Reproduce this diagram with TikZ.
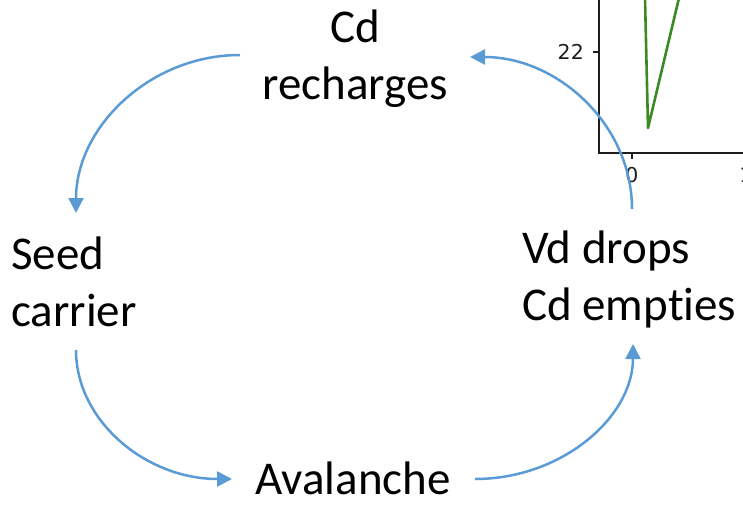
\documentclass[tikz,border=0pt]{standalone}
\usepackage{fontspec}
\setmainfont[Ligatures=NoCommon]{Carlito}
\newfontfamily\plotfont{DejaVu Sans}
\usetikzlibrary{arrows.meta}
\definecolor{cycblue}{HTML}{5B9BD5}
\definecolor{plotgreen}{RGB}{60,138,36}
\definecolor{axisgray}{RGB}{30,30,30}
\tikzset{
  lbl/.style={inner sep=0pt, font=\fontsize{47}{57}\selectfont, align=left},
  lblc/.style={lbl, align=center},
  cyc/.style={draw=cycblue, line width=2.5pt, -{Triangle[length=15pt,width=15pt]}},
  ax/.style={draw=axisgray, line width=1.6pt},
  tick/.style={inner sep=0pt, font=\plotfont\fontsize{20.5}{24}\selectfont, text=axisgray}
}
\begin{document}
\begin{tikzpicture}[x=1pt,y=-1pt]
\useasboundingbox (0,0) rectangle (743,505);
\begin{scope}
\clip (0,0) rectangle (743,505);
% plot fragment
\coordinate (ptop) at (599,0);
\coordinate (porig) at (599,153);
\coordinate (pright) at (743,153);
\draw[ax] (ptop) -- (porig) -- (pright);
\coordinate (yt) at (599,52);
\draw[ax] (yt) -- ++(-6,0);
\node[tick, anchor=east] (y22) at (584,52) {22};
\coordinate (xt0) at (632,153);
\draw[ax] (xt0) -- ++(0,6);
\node[tick, anchor=north] (x0) at (632,167) {0};
\node[tick, anchor=north] (x1) at (746,167) {1};
\coordinate (g1) at (645,-2);
\coordinate (g2) at (648,128);
\coordinate (g3) at (679,-2);
\draw[plotgreen, line width=2.6pt, line join=round] (g1) -- (g2) -- (g3);
\end{scope}
% labels
\node[lblc, anchor=base] (cd) at (355,100) {Cd\\recharges};
\node[lbl, anchor=base west] (seed) at (11,326) {Seed\\carrier};
\node[lbl, anchor=base west] (vd) at (522,320) {Vd drops\\Cd empties};
\node[lbl, anchor=base] (aval) at (353,494) {Avalanche};
% connector ends
\coordinate (a1s) at (240,55);
\coordinate (a1e) at (76,213);
\coordinate (a2s) at (76,350);
\coordinate (a2e) at (232,479);
\coordinate (a3s) at (475,479);
\coordinate (a3e) at (633,344);
\coordinate (a4s) at (632,209);
\coordinate (a4e) at (470,57);
\draw[cyc] (a1s) .. controls (150,55) and (76,127) .. (a1e);
\draw[cyc] (a2s) .. controls (76,421) and (146,479) .. (a2e);
\draw[cyc] (a3s) .. controls (562,479) and (633,417) .. (a3e);
\draw[cyc] (a4s) .. controls (632,125) and (558,57) .. (a4e);
\end{tikzpicture}
\end{document}
